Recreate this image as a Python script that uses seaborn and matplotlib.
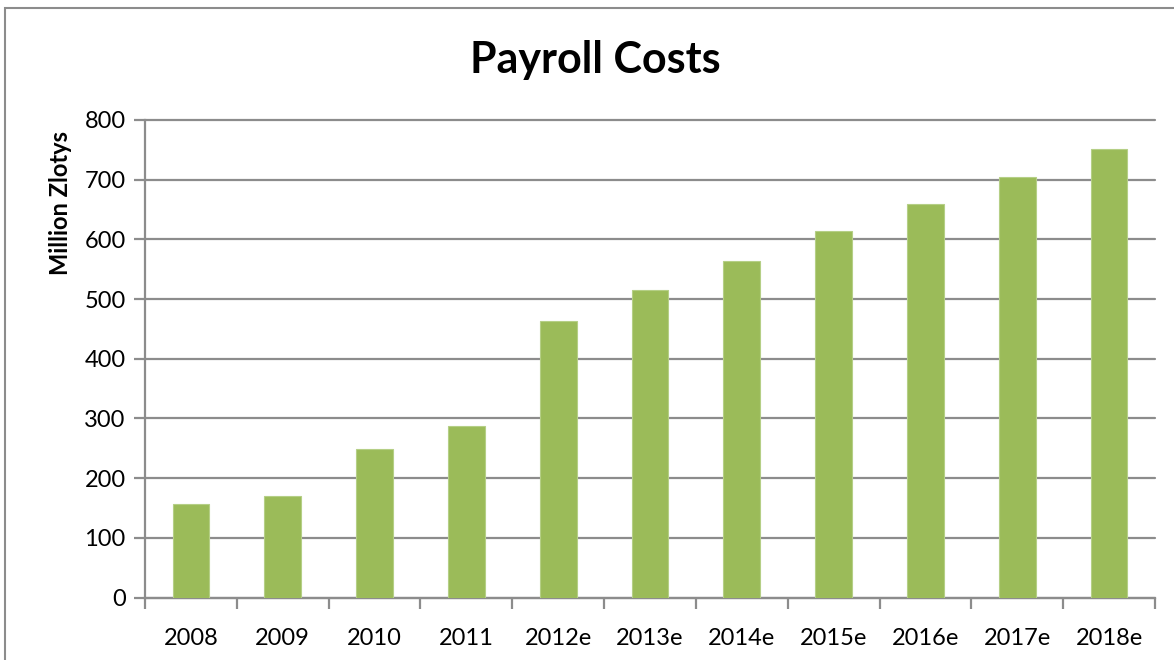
import matplotlib
matplotlib.use("Agg")
import matplotlib.pyplot as plt
import seaborn as sns
import pandas as pd
from matplotlib.patches import Rectangle

years = ["2008", "2009", "2010", "2011", "2012e", "2013e", "2014e",
         "2015e", "2016e", "2017e", "2018e"]
costs = [157, 170, 248, 287, 464, 516, 564, 614, 660, 705, 751]
y_ticks = [0, 100, 200, 300, 400, 500, 600, 700, 800]

sns.set_theme(style="white")
plt.rcParams["font.family"] = ["Lato", "DejaVu Sans"]
plt.rcParams["text.color"] = "black"
plt.rcParams["axes.labelcolor"] = "black"

df = pd.DataFrame({"year": years, "cost": costs})

fig = plt.figure(figsize=(11.74, 6.6), dpi=100)
ax = fig.add_axes([145 / 1174, 1 - 597.5 / 660, 1010 / 1174, 477.5 / 660])

sns.barplot(data=df, x="year", y="cost", color="#9BBB59", width=0.4,
            edgecolor="#B5CF86", linewidth=0.8, saturation=1, ax=ax, zorder=3)

ax.set_ylim(0, 800)
ax.set_xlim(-0.5, len(years) - 0.5)
ax.set_yticks(y_ticks)
ax.yaxis.grid(True, color="#8C8C8C", linewidth=1.6)
for gl in ax.get_ygridlines():
    gl.set_clip_on(False)
ax.set_axisbelow(True)
for side in ("top", "right"):
    ax.spines[side].set_visible(False)
for side in ("left", "bottom"):
    ax.spines[side].set_color("#8C8C8C")
    ax.spines[side].set_linewidth(1.6)

# category boundary ticks below the x axis
ax.set_xticks([i - 0.5 for i in range(len(years) + 1)], minor=True)
ax.tick_params(axis="x", which="minor", bottom=True, length=8, width=1.6,
               color="#8C8C8C")
ax.tick_params(axis="x", which="major", bottom=False, labelsize=17,
               pad=16, labelcolor="black")
ax.tick_params(axis="y", left=True, length=8, width=1.6, color="#8C8C8C",
               labelsize=17, pad=6, labelcolor="black")

ax.set_xlabel("")
ax.set_ylabel("")
fig.text(60 / 1174, 1 - 203 / 660, "Million Zlotys", rotation=90,
         ha="center", va="center", fontsize=17, fontweight="bold")

fig.text(595 / 1174, 1 - 60 / 660, "Payroll Costs", ha="center", va="center",
         fontsize=31, fontweight="bold")

fig.patches.append(Rectangle((5 / 1174, -0.1), 1.2, 1 - 8 / 660 + 0.1,
                             transform=fig.transFigure, fill=False,
                             edgecolor="#8C8C8C", linewidth=1.5))

fig.savefig("out.png", dpi=100)
